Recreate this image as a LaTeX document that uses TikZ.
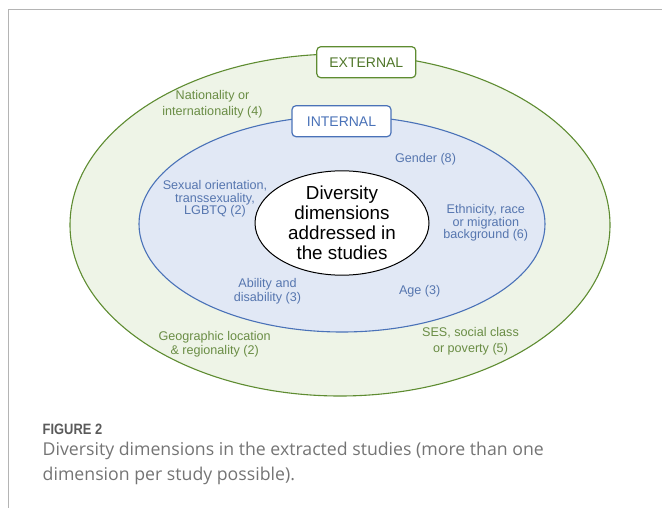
\documentclass[tikz,border=0pt]{standalone}
\usepackage{fontspec}
\setmainfont{Liberation Sans}
\newfontfamily\capfont{Open Sans}
\usetikzlibrary{shapes.geometric}
\definecolor{extline}{HTML}{5E8C31}
\definecolor{extfill}{HTML}{EEF4E7}
\definecolor{exttext}{HTML}{6A8D45}
\definecolor{intline}{HTML}{4A72B8}
\definecolor{intfill}{HTML}{E1E8F5}
\definecolor{inttext}{HTML}{5676AF}
\definecolor{framegray}{HTML}{B4B4B4}
\definecolor{capgray}{HTML}{747474}
\definecolor{figgray}{HTML}{5A5A5A}
\begin{document}
\begin{tikzpicture}[x=1pt,y=-1pt,
  ring/.style={ellipse, inner sep=0pt, line width=1.1pt},
  tag/.style={draw, fill=white, rounded corners=4pt, line width=1.2pt,
    minimum width=99pt, minimum height=31pt, inner sep=0pt,
    font=\fontsize{14}{16}\selectfont},
  lbl/.style={align=center, inner sep=0pt, font=\fontsize{12.6}{#1}\selectfont},
  lbl/.default=15,
  extlbl/.style={lbl=#1, text=exttext},
  extlbl/.default=15,
  intlbl/.style={lbl=#1, text=inttext},
  intlbl/.default=13]
\useasboundingbox (0,0) rectangle (662,508);

% page frame
\draw[framegray, line width=0.9pt] (8,508) -- (8,9.5) -- (662,9.5);

% nested dimension rings
\node[ring, draw=extline, fill=extfill, minimum width=540pt, minimum height=342pt] (outer) at (340,225) {};
\node[ring, draw=intline, fill=intfill, minimum width=406pt, minimum height=216pt] (inner) at (342,224) {};
\node[ring, draw=black, fill=white, line width=1pt, minimum width=174pt, minimum height=104pt,
  align=center, font=\fontsize{18.8}{20}\selectfont] (core) at (342,223)
  {Diversity\\dimensions\\addressed in\\the studies};

% ring titles
\node[tag, draw=extline, text=extline!85!black] (ext) at (366.3,62.2) {EXTERNAL};
\node[tag, draw=intline, text=intline] (int) at (341.5,121.2) {INTERNAL};

% external dimensions
\node[extlbl=15.7] (nat) at (212.5,104.5) {Nationality or\\internationality (4)};
\node[extlbl=14] (geo) at (214.7,344.2) {Geographic location\\\& regionality (2)};
\node[extlbl=15.6] (ses) at (470.5,341) {SES, social class\\or poverty (5)};

% internal dimensions
\node[intlbl] (gen) at (425.5,158.8) {Gender (8)};
\node[intlbl=12.5] (sex) at (215,198.8) {Sexual orientation,\\transsexuality,\\LGBTQ (2)};
\node[intlbl=12.5] (eth) at (485.8,223) {Ethnicity, race\\or migration\\background (6)};
\node[intlbl=13.3] (abl) at (267.5,291.2) {Ability and\\disability (3)};
\node[intlbl] (age) at (419.7,291) {Age (3)};

% caption
\node[anchor=west, inner sep=0pt, text=figgray, font=\bfseries\fontsize{15}{17}\selectfont] (fig) at (42.5,429.5)
  {\scalebox{0.86}[1]{FIGURE 2}};
\node[anchor=north west, inner sep=0pt, align=left, text=capgray,
  font=\capfont\fontsize{17.7}{25}\selectfont] (cap) at (42.5,441.5)
  {Diversity dimensions in the extracted studies (more than one\\dimension per study possible).};
\end{tikzpicture}
\end{document}
